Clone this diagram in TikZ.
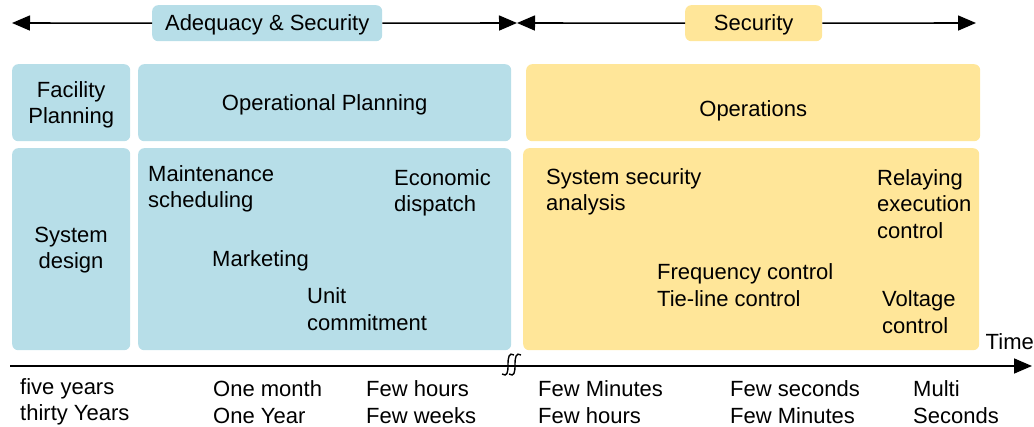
\documentclass[tikz,border=0pt]{standalone}
\usepackage{fontspec}
\setmainfont{Liberation Sans}
\usetikzlibrary{arrows.meta}
\definecolor{bluebox}{RGB}{183,222,232}
\definecolor{yellowbox}{RGB}{255,230,153}
\tikzset{
  box/.style={rounded corners=6pt, draw=none, inner sep=0pt, anchor=north west},
  bbox/.style={box, fill=bluebox},
  ybox/.style={box, fill=yellowbox},
  lbl/.style={inner sep=0pt, align=left, anchor=west, font=\fontsize{22}{26.5}\selectfont},
  clbl/.style={inner sep=0pt, align=center, font=\fontsize{22}{26.5}\selectfont},
  arr/.style={line width=1.6pt, -{Triangle[length=18pt,width=15pt]}},
  brk/.style={line width=1.4pt}
}
\begin{document}
\begin{tikzpicture}[x=1pt,y=-1pt]
\useasboundingbox (0,0) rectangle (1034,427);
% boxes
\node[bbox, minimum width=118pt, minimum height=77pt] (fp) at (12,64) {};
\node[bbox, minimum width=373pt, minimum height=77pt] (op) at (138,64) {};
\node[ybox, minimum width=454pt, minimum height=77pt] (ops) at (526,64) {};
\node[bbox, minimum width=118pt, minimum height=202pt] (sd) at (12,148) {};
\node[bbox, minimum width=373pt, minimum height=202pt] (opb) at (138,148) {};
\node[ybox, minimum width=456pt, minimum height=202pt] (opsb) at (523,148) {};
% top labels
\node[bbox, minimum width=230pt, minimum height=36pt] (as) at (152,5) {};
\node[clbl] (ast) at ([yshift=-2pt]as.center) {Adequacy \& Security};
\node[ybox, minimum width=137pt, minimum height=36pt] (sec) at (685,5) {};
\node[clbl] (sect) at ([yshift=-2pt]sec.center) {Security};
% top arrows
\coordinate (l1) at (12,23);
\coordinate (m1) at (517,23);
\coordinate (r1) at (976,23);
\draw[arr] (as.west) -- (l1);
\draw[arr] (as.east) -- (m1);
\draw[arr] (sec.west) -- (m1);
\draw[arr] (sec.east) -- (r1);
% box texts
\node[clbl] (fpt) at ([yshift=-2pt]fp.center) {Facility\\Planning};
\node[clbl] (opt) at ([yshift=-2pt]op.center) {Operational Planning};
\node[clbl] (opst) at ([yshift=-8pt]ops.center) {Operations};
\node[clbl] (sdt) at (71,250) {System\\design};
\node[lbl] (ms) at (148,189) {Maintenance\\scheduling};
\node[lbl] (ed) at (394,193) {Economic\\dispatch};
\node[lbl] (mk) at (212,261) {Marketing};
\node[lbl] (uc) at (307,309) {Unit\\commitment};
\node[lbl] (ssa) at (546,192) {System security\\analysis};
\node[lbl] (rec) at (877,204) {Relaying\\execution\\control};
\node[lbl] (fc) at (657,285) {Frequency control\\Tie-line control};
\node[lbl] (vc) at (882,312) {Voltage\\control};
% time axis
\coordinate (t0) at (10,366);
\coordinate (t1) at (1032,366);
\draw[line width=1.6pt, -{Triangle[length=18pt,width=15pt]}] (t0) -- (t1);
\node[lbl, anchor=east] (time) at (1034,342) {Time};
% break symbol
\draw[brk] (502,374) .. controls (507,377) and (508,373) .. (508,365) .. controls (508,357) and (509,352) .. (514,355);
\draw[brk] (509,374) .. controls (514,377) and (515,373) .. (515,365) .. controls (515,357) and (516,352) .. (521,355);
% bottom labels
\node[lbl] (b1) at (20,402) {five years\\thirty Years};
\node[lbl] (b2) at (213,402) {One month\\One Year};
\node[lbl] (b3) at (366,402) {Few hours\\Few weeks};
\node[lbl] (b4) at (538,402) {Few Minutes\\Few hours};
\node[lbl] (b5) at (730,402) {Few seconds\\Few Minutes};
\node[lbl] (b6) at (913,402) {Multi\\Seconds};
\end{tikzpicture}
\end{document}
